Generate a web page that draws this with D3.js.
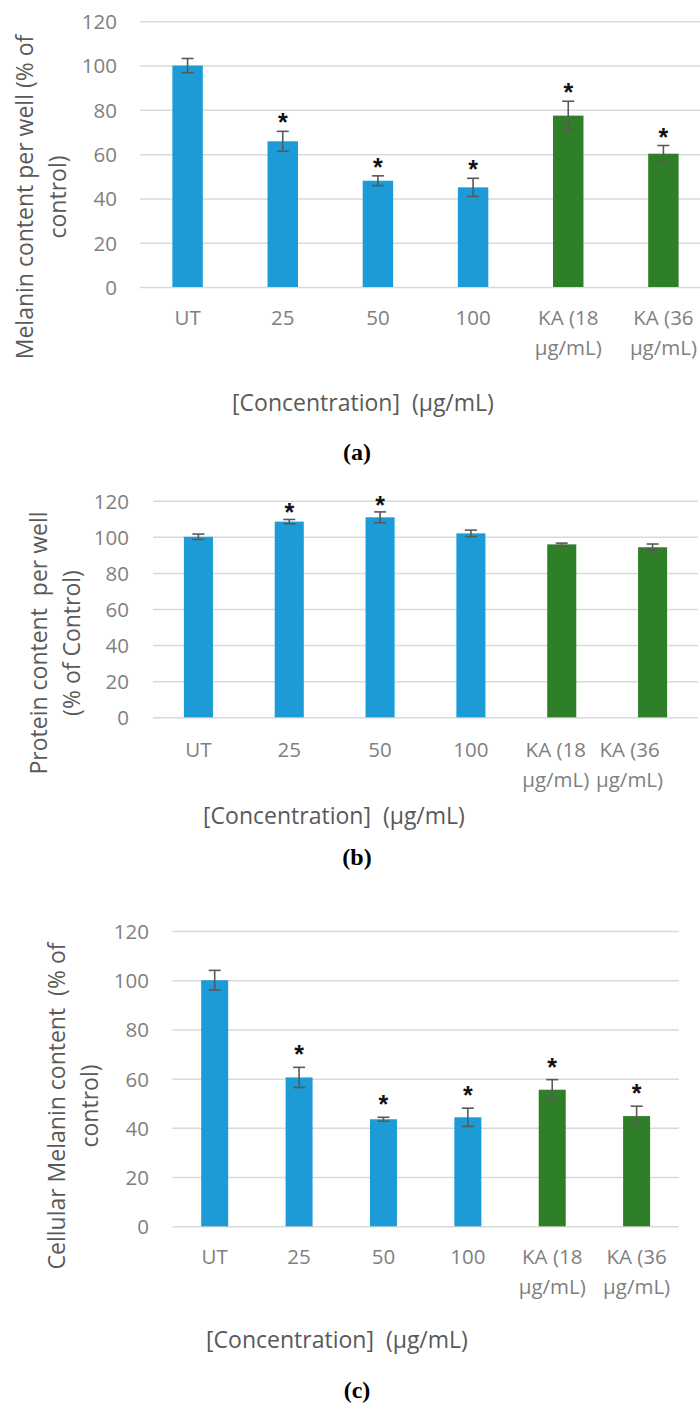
<!DOCTYPE html>
<html>
<head>
<meta charset="utf-8">
<script src="https://cdn.jsdelivr.net/npm/d3@7"></script>
<style>
  html, body { margin: 0; padding: 0; background: #ffffff; }
  svg { display: block; }
  text { font-family: "Open Sans", "Noto Sans", "DejaVu Sans", sans-serif; white-space: pre; }
</style>
</head>
<body>
<svg id="fig" width="700" height="1405"></svg>
<script>
// ---- data -------------------------------------------------------------
const categories = ["UT", "25", "50", "100", "KA (18 µg/mL)", "KA (36 µg/mL)"];
const categoryLines = [["UT"], ["25"], ["50"], ["100"], ["KA (18", "µg/mL)"], ["KA (36", "µg/mL)"]];
const treatmentType = ["extract", "extract", "extract", "extract", "kojic", "kojic"];
const yTicks = [0, 20, 40, 60, 80, 100, 120];

// (a) melanin content per well, % of control
const melaninWell = [100, 65.8, 48.0, 45.0, 77.4, 60.2];
const melaninWellErr = [3.2, 4.5, 2.2, 4.1, 6.5, 3.7];
const melaninWellSig = [false, true, true, true, true, true];

// (b) protein content per well, % of control
const proteinWell = [100, 108.4, 110.8, 101.9, 95.8, 94.2];
const proteinWellErr = [1.5, 1.2, 3.0, 1.8, 0.7, 1.8];
const proteinWellSig = [false, true, true, false, false, false];

// (c) cellular melanin content, % of control
const cellMelanin = [100, 60.5, 43.5, 44.3, 55.5, 44.8];
const cellMelaninErr = [4.0, 4.1, 0.8, 3.7, 4.1, 4.0];
const cellMelaninSig = [false, true, true, true, true, true];

// ---- styling ----------------------------------------------------------
const colors = { extract: "#1c9bd7", kojic: "#2f7f29" };
const gridColor = "#d9d9d9";
const tickColor = "#7f7f7f";
const titleColor = "#595959";
const errColor = "#595959";

const panels = [
  {
    values: melaninWell, errors: melaninWellErr, sig: melaninWellSig,
    yTitle: ["Melanin content per well (% of", "control)"],
    caption: "(a)",
    left: 140, right: 711, yBottom: 287, yTop: 21.3,
    tickRight: 117, yTitleX: [33, 66], yTitleCY: 197,
    catBaseline: 325, xTitleY: 411, xTitleCX: 363,
    captionY: 460, starGap: 14, labelShift: [0, 0, 0, 0, 0, 0]
  },
  {
    values: proteinWell, errors: proteinWellErr, sig: proteinWellSig,
    yTitle: ["Protein content  per well", "(% of Control)"],
    caption: "(b)",
    left: 153, right: 698, yBottom: 717.3, yTop: 500.7,
    tickRight: 129, yTitleX: [47, 80], yTitleCY: 643,
    catBaseline: 757, xTitleY: 824, xTitleCX: 334,
    captionY: 865, starGap: 12, labelShift: [0, 0, 0, 0, -6, -23]
  },
  {
    values: cellMelanin, errors: cellMelaninErr, sig: cellMelaninSig,
    yTitle: ["Cellular Melanin content  (% of", "control)"],
    caption: "(c)",
    left: 172.5, right: 678.8, yBottom: 1226.3, yTop: 931,
    tickRight: 149, yTitleX: [65, 98], yTitleCY: 1106,
    catBaseline: 1264, xTitleY: 1348, xTitleCX: 337,
    captionY: 1398, starGap: 18, labelShift: [0, 0, 0, 0, 0, 0]
  }
];

const svg = d3.select("#fig");
svg.append("rect").attr("width", 700).attr("height", 1405).attr("fill", "#fff");

panels.forEach(p => {
  const g = svg.append("g");

  const x = d3.scaleBand()
    .domain(categories)
    .range([p.left, p.right])
    .paddingInner(0.68)
    .paddingOuter(0.34);

  const y = d3.scaleLinear()
    .domain([0, 120])
    .range([p.yBottom, p.yTop]);

  const cx = d => x(d) + x.bandwidth() / 2;

  // horizontal gridlines with value labels
  const yAxis = g.append("g")
    .attr("transform", `translate(${p.left},0)`)
    .call(d3.axisLeft(y).tickValues(yTicks).tickSize(-(p.right - p.left)).tickPadding(0));
  yAxis.select(".domain").remove();
  yAxis.selectAll(".tick line")
    .attr("stroke", gridColor)
    .attr("stroke-width", 1.5);
  yAxis.selectAll(".tick text")
    .attr("x", p.tickRight - p.left)
    .attr("dy", "0.36em")
    .attr("fill", tickColor)
    .style("font-size", "20.5px");

  // bars
  g.selectAll("rect.bar")
    .data(categories)
    .join("rect")
    .attr("class", "bar")
    .attr("x", d => x(d))
    .attr("width", x.bandwidth())
    .attr("y", (d, i) => y(p.values[i]))
    .attr("height", (d, i) => y(0) - y(p.values[i]))
    .attr("fill", (d, i) => colors[treatmentType[i]]);

  // error bars
  const cap = 6;
  const eb = g.selectAll("g.err")
    .data(categories)
    .join("g")
    .attr("class", "err")
    .attr("stroke", errColor)
    .attr("stroke-width", 1.6)
    .attr("fill", "none");
  eb.append("line")
    .attr("x1", cx).attr("x2", cx)
    .attr("y1", (d, i) => y(p.values[i] + p.errors[i]))
    .attr("y2", (d, i) => y(p.values[i] - p.errors[i]));
  eb.append("line")
    .attr("x1", d => cx(d) - cap).attr("x2", d => cx(d) + cap)
    .attr("y1", (d, i) => y(p.values[i] + p.errors[i]))
    .attr("y2", (d, i) => y(p.values[i] + p.errors[i]));
  eb.append("line")
    .attr("x1", d => cx(d) - cap).attr("x2", d => cx(d) + cap)
    .attr("y1", (d, i) => y(p.values[i] - p.errors[i]))
    .attr("y2", (d, i) => y(p.values[i] - p.errors[i]));

  // significance markers
  g.selectAll("text.sig")
    .data(categories.filter((d, i) => p.sig[i]))
    .join("text")
    .attr("class", "sig")
    .attr("x", cx)
    .attr("y", d => {
      const i = categories.indexOf(d);
      return y(p.values[i] + p.errors[i]) - p.starGap + 14;
    })
    .attr("text-anchor", "middle")
    .attr("fill", "#111")
    .style("font-family", "'Liberation Sans', Arial, sans-serif")
    .style("font-weight", "bold")
    .style("font-size", "25px")
    .text("*");

  // category labels (wrapped on two lines where needed)
  const xAxis = g.append("g")
    .attr("transform", `translate(0,${p.yBottom})`)
    .call(d3.axisBottom(x).tickSize(0).tickFormat(""));
  xAxis.select(".domain").remove();
  xAxis.selectAll(".tick text").remove();
  xAxis.selectAll(".tick").each(function (d) {
    const i = categories.indexOf(d);
    const t = d3.select(this).append("text")
      .attr("text-anchor", "middle")
      .attr("fill", tickColor)
      .style("font-size", "20.5px")
      .attr("x", p.labelShift[i])
      .attr("y", p.catBaseline - p.yBottom);
    categoryLines[i].forEach((line, k) => {
      t.append("tspan").attr("x", p.labelShift[i]).attr("dy", k === 0 ? 0 : 30).text(line);
    });
  });

  // axis titles
  g.append("text")
    .attr("x", p.xTitleCX)
    .attr("y", p.xTitleY)
    .attr("text-anchor", "middle")
    .attr("fill", titleColor)
    .style("font-size", "23px")
    .text("[Concentration]  (µg/mL)");

  p.yTitle.forEach((line, k) => {
    g.append("text")
      .attr("transform", `translate(${p.yTitleX[k]},${p.yTitleCY}) rotate(-90)`)
      .attr("text-anchor", "middle")
      .attr("fill", titleColor)
      .style("font-size", "23px")
      .text(line);
  });

  // panel caption
  g.append("text")
    .attr("x", 357)
    .attr("y", p.captionY)
    .attr("text-anchor", "middle")
    .attr("fill", "#000")
    .style("font-family", "'Liberation Serif', 'DejaVu Serif', serif")
    .style("font-weight", "bold")
    .style("font-size", "24px")
    .text(p.caption);
});
</script>
</body>
</html>
